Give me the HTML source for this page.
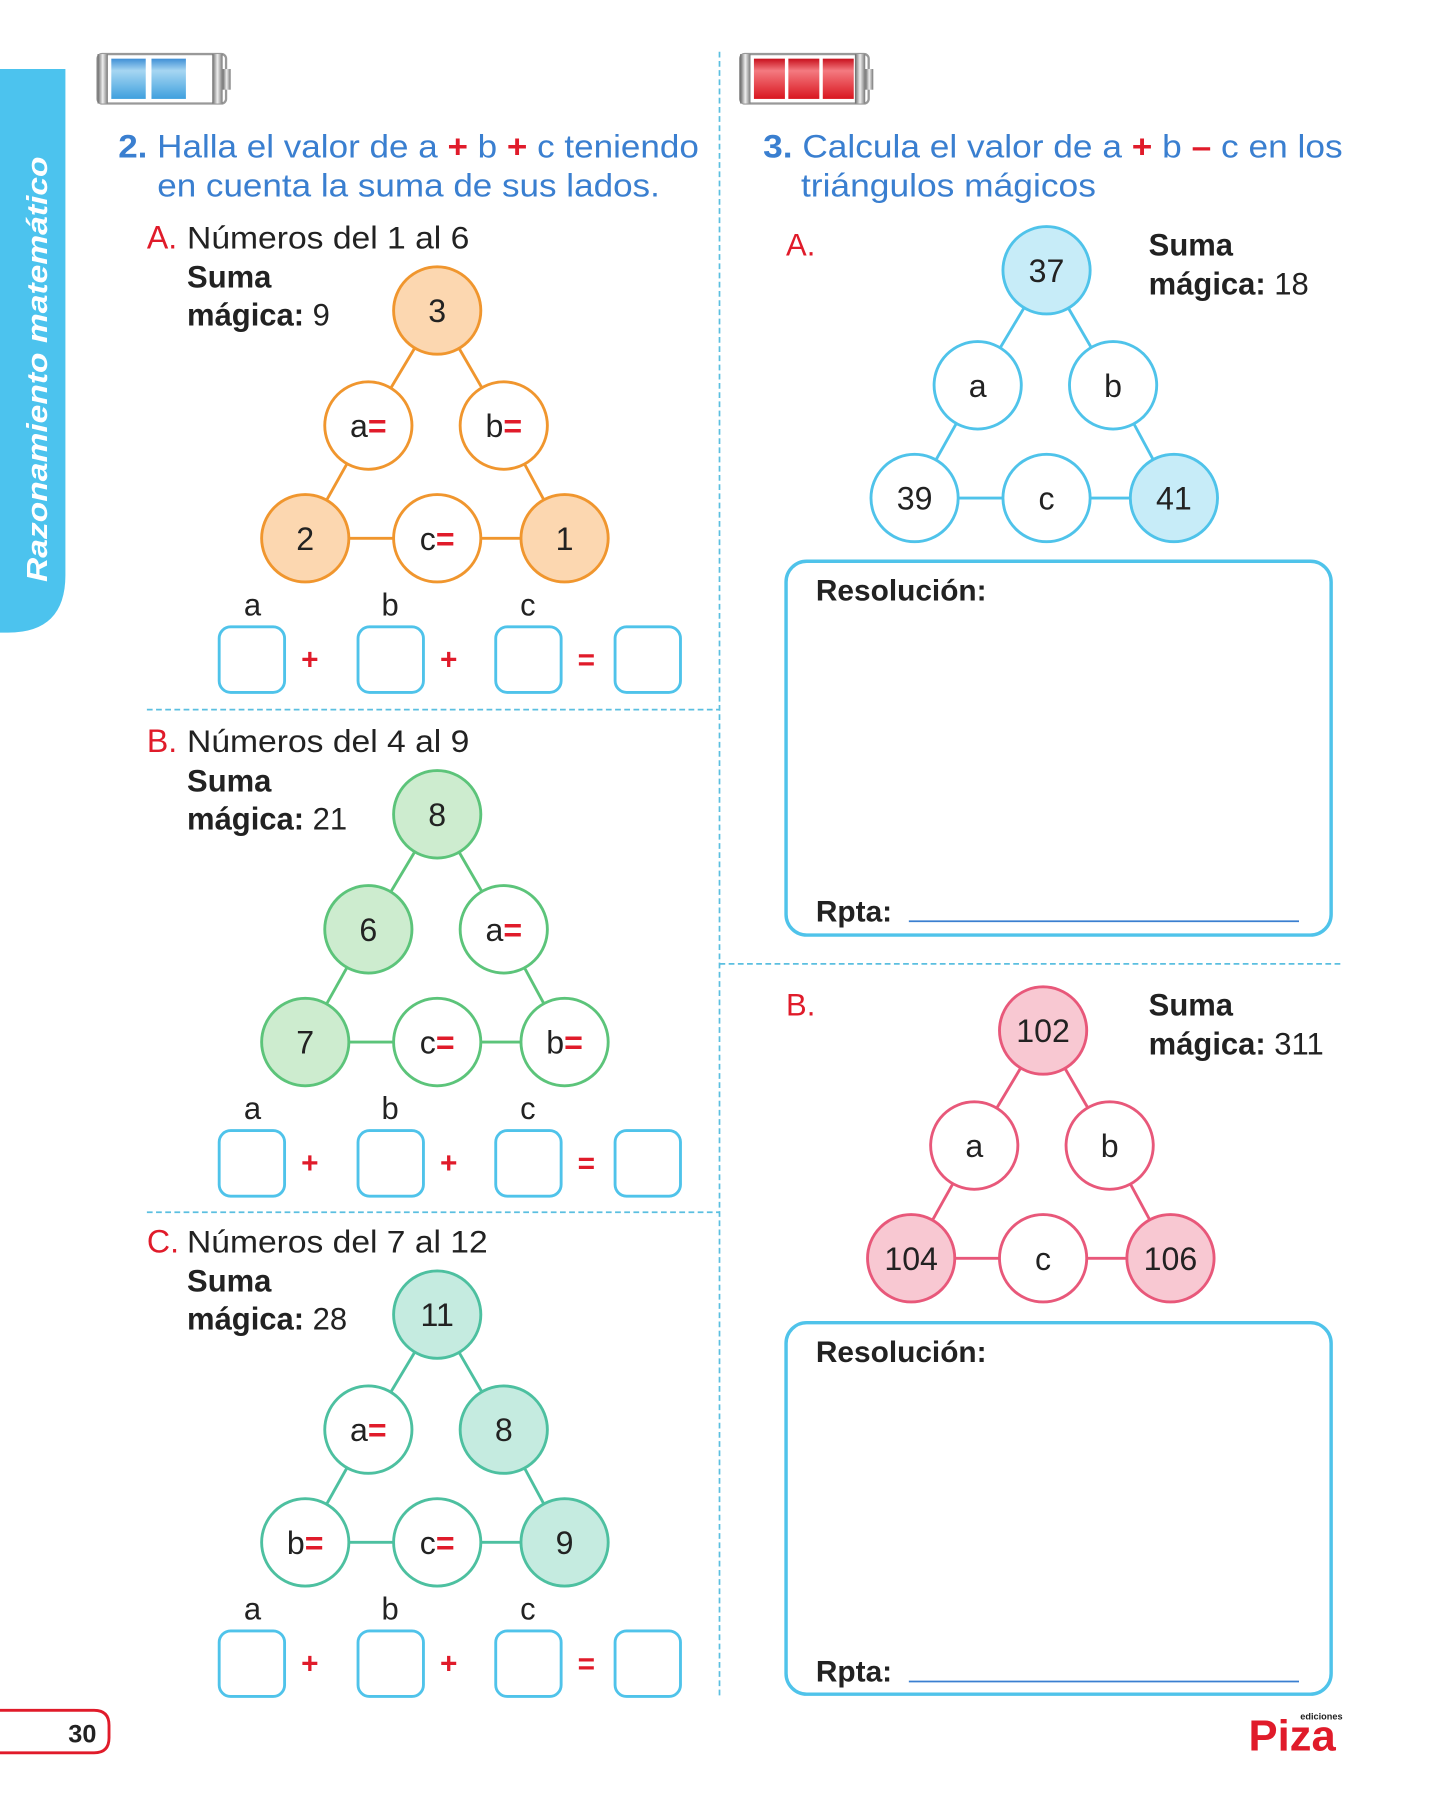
<!DOCTYPE html>
<html><head><meta charset="utf-8"><style>
html,body{margin:0;padding:0;background:#fff}
svg{display:block}
text{font-family:"Liberation Sans",sans-serif}
</style></head><body>
<svg width="1439" height="1800" viewBox="0 0 1254 1565" preserveAspectRatio="none" xmlns="http://www.w3.org/2000/svg">
<defs>
<linearGradient id="bl" x1="0" y1="0" x2="0" y2="1"><stop offset="0" stop-color="#3f8fd6"/><stop offset="0.3" stop-color="#a6d6f2"/><stop offset="1" stop-color="#3fa0de"/></linearGradient>
<linearGradient id="rd" x1="0" y1="0" x2="0" y2="1"><stop offset="0" stop-color="#c8101c"/><stop offset="0.3" stop-color="#f47a80"/><stop offset="1" stop-color="#d9161f"/></linearGradient>
<linearGradient id="gr" x1="0" y1="0" x2="1" y2="0"><stop offset="0" stop-color="#666"/><stop offset="0.5" stop-color="#eee"/><stop offset="1" stop-color="#777"/></linearGradient>
</defs>

<g>
<path d="M0 60 H57 V500 Q57 550 7 550 H0 Z" fill="#4cc3ee"/>
<text transform="translate(41,506) rotate(-90)" font-size="25" font-weight="bold" font-style="italic" fill="#fff" textLength="370" lengthAdjust="spacingAndGlyphs">Razonamiento matemático</text>
</g>

<g>
<rect x="85" y="47" width="112" height="43" rx="4" fill="#fff" stroke="#999" stroke-width="2"/>
<rect x="85" y="47" width="9" height="43" fill="url(#gr)"/>
<rect x="185" y="47" width="9" height="43" fill="url(#gr)"/>
<rect x="194" y="60" width="7" height="18" fill="url(#gr)"/>
<rect x="97" y="51" width="30" height="35" fill="url(#bl)"/>
<rect x="132" y="51" width="30" height="35" fill="url(#bl)"/>
</g>
<g>
<rect x="645" y="47" width="112" height="43" rx="4" fill="#fff" stroke="#999" stroke-width="2"/>
<rect x="645" y="47" width="9" height="43" fill="url(#gr)"/>
<rect x="745" y="47" width="9" height="43" fill="url(#gr)"/>
<rect x="754" y="60" width="7" height="18" fill="url(#gr)"/>
<rect x="657" y="51" width="27" height="35" fill="url(#rd)"/>
<rect x="687" y="51" width="27" height="35" fill="url(#rd)"/>
<rect x="717" y="51" width="27" height="35" fill="url(#rd)"/>
</g>

<g stroke="#5bbfe0" stroke-width="1.5" stroke-dasharray="5,3">
<line x1="627" y1="45" x2="627" y2="1475"/>
<line x1="128" y1="617" x2="627" y2="617"/>
<line x1="128" y1="1054" x2="627" y2="1054"/>
<line x1="627" y1="838" x2="1170" y2="838"/>
</g>

<g font-size="28" fill="#3a7fd0">
<text x="103" y="137" textLength="506" lengthAdjust="spacingAndGlyphs"><tspan font-weight="bold">2.</tspan> Halla el valor de a <tspan fill="#e01b2a" font-weight="bold">+</tspan> b <tspan fill="#e01b2a" font-weight="bold">+</tspan> c teniendo</text>
<text x="137" y="171" textLength="438" lengthAdjust="spacingAndGlyphs">en cuenta la suma de sus lados.</text>
<text x="665" y="137" textLength="505" lengthAdjust="spacingAndGlyphs"><tspan font-weight="bold">3.</tspan> Calcula el valor de a <tspan fill="#e01b2a" font-weight="bold">+</tspan> b <tspan fill="#e01b2a" font-weight="bold">–</tspan> c en los</text>
<text x="698" y="171" textLength="257" lengthAdjust="spacingAndGlyphs">triángulos mágicos</text>
</g>

<g id="left"></g>
<g id="right"></g>

<g>
<rect x="685" y="488" width="475" height="325" rx="18" fill="none" stroke="#4fc3ea" stroke-width="3"/>
<text x="711" y="522" font-size="26" font-weight="bold" fill="#222">Resolución:</text>
<text x="711" y="801" font-size="26" font-weight="bold" fill="#222">Rpta:</text>
<line x1="792" y1="801" x2="1132" y2="801" stroke="#3a7fd0" stroke-width="1.5"/>
</g>
<g>
<rect x="685" y="1150" width="475" height="323" rx="18" fill="none" stroke="#4fc3ea" stroke-width="3"/>
<text x="711" y="1184" font-size="26" font-weight="bold" fill="#222">Resolución:</text>
<text x="711" y="1462" font-size="26" font-weight="bold" fill="#222">Rpta:</text>
<line x1="792" y1="1462" x2="1132" y2="1462" stroke="#3a7fd0" stroke-width="1.5"/>
</g>

<g>
<path d="M0 1487 H82 Q95 1487 95 1500 V1511 Q95 1524 82 1524 H0" fill="#fff" stroke="#e01b2a" stroke-width="2.5"/>
<text x="84" y="1515" font-size="22" font-weight="bold" fill="#222" text-anchor="end">30</text>
</g>
<g>
<text x="1126" y="1522" font-size="38" font-weight="bold" fill="#e01b2a" text-anchor="middle">Piza</text>
<text x="1170" y="1495" font-size="8" font-weight="bold" fill="#222" text-anchor="end">ediciones</text>
</g>

<script>
const NS='http://www.w3.org/2000/svg';
function mk(parent,tag,attrs,txt){const e=document.createElementNS(NS,tag);for(const k in attrs)e.setAttribute(k,attrs[k]);if(txt!==undefined)e.textContent=txt;parent.appendChild(e);return e;}
const leftTitles=['A.','B.','C.'];
const leftRanges=['Números del 1 al 6','Números del 4 al 9','Números del 7 al 12'];
const leftSums=['9','21','28'];
const leftNodes=[['3','a=','b=','2','c=','1'],['8','6','a=','7','c=','b='],['11','a=','8','b=','c=','9']];
const leftFilled=[[1,0,0,1,0,1],[1,1,0,1,0,0],[1,0,1,0,0,1]];
const leftStroke=['#f0962e','#5cc47a','#4dc0a0'];
const leftFill=['#fcd7b0','#cdeccf','#c5ebe0'];
const leftOffsets=[0,438,873];
const rightTitles=['A.','B.'];
const rightSums=['18','311'];
const rightNodes=[['37','a','b','39','c','41'],['102','a','b','104','c','106']];
const rightFilled=[[1,0,0,0,0,1],[1,0,0,1,0,1]];
const rightStroke=['#4fc3ea','#e8587a'];
const rightFill=['#c7ecf8','#f8c8d2'];

function tri(g,cx,cy,vals,filled,stroke,fill){
  const P=[[cx,cy],[cx-60,cy+100],[cx+58,cy+100],[cx-115,cy+198],[cx,cy+198],[cx+111,cy+198]];
  const lines=[[0,1],[0,2],[1,3],[2,5],[3,4],[4,5]];
  lines.forEach(l=>{
    const [a,b]=l;const x1=P[a][0],y1=P[a][1],x2=P[b][0],y2=P[b][1];
    const d=Math.hypot(x2-x1,y2-y1),r=38;
    const ln=mk(g,'line',{x1:x1+(x2-x1)*r/d,y1:y1+(y2-y1)*r/d,x2:x2-(x2-x1)*r/d,y2:y2-(y2-y1)*r/d,stroke:stroke,'stroke-width':2.5});
    
    
  });
  P.forEach((p,i)=>{
    const c=mk(g,'circle',{cx:p[0],cy:p[1],r:38,fill:filled[i]?fill:'#fff',stroke:stroke,'stroke-width':2.5});
    
    
    const v=vals[i];
    if(v.endsWith('=')){
      const t=mk(g,'text',{x:p[0],y:p[1]+10,'font-size':28,'text-anchor':'middle',fill:'#222'});
      mk(t,'tspan',{},v.slice(0,-1));mk(t,'tspan',{fill:'#e01b2a','font-weight':'bold'},'=');
    } else mk(g,'text',{x:p[0],y:p[1]+10,'font-size':28,'text-anchor':'middle',fill:'#222'},v);
  });
}
const L=document.getElementById('left');
leftTitles.forEach((t,i)=>{
  const o=leftOffsets[i];
  const g=mk(L,'g',{});
  
  
  mk(g,'text',{x:128,y:216+o,'font-size':28,fill:'#e01b2a'},t);
  mk(g,'text',{x:163,y:216+o,'font-size':27,fill:'#222',textLength:(i==2?262:246),lengthAdjust:'spacingAndGlyphs'},leftRanges[i]);
  mk(g,'text',{x:163,y:250+o,'font-size':27,'font-weight':'bold',fill:'#222'},'Suma');
  const s=mk(g,'text',{x:163,y:283+o,'font-size':27,fill:'#222'});
  mk(s,'tspan',{'font-weight':'bold'},'mágica:');mk(s,'tspan',{},' '+leftSums[i]);
  tri(g,381,270+o,leftNodes[i],leftFilled[i],leftStroke[i],leftFill[i]);
  ['a','b','c'].forEach((l,j)=>mk(g,'text',{x:220+120*j,y:535+o,'font-size':27,'text-anchor':'middle',fill:'#222'},l));
  [191,312,432,536].forEach(x=>{
    const b=mk(g,'rect',{x:x,y:545+o,width:57,height:57,rx:10,fill:'#fff',stroke:'#4fc3ea','stroke-width':2.5});
    
    
  });
  [['+',270],['+',391],['=',511]].forEach(s=>mk(g,'text',{x:s[1],y:582+o,'font-size':26,'font-weight':'bold','text-anchor':'middle',fill:'#e01b2a'},s[0]));
});
const R=document.getElementById('right');
const rOff=[0,661];
const rTop=[[912,235],[909,896]];
rightTitles.forEach((t,i)=>{
  const o=rOff[i];
  const g=mk(R,'g',{});
  
  
  mk(g,'text',{x:685,y:222+o,'font-size':27,fill:'#e01b2a'},t);
  mk(g,'text',{x:1001,y:222+o,'font-size':27,'font-weight':'bold',fill:'#222'},'Suma');
  const s=mk(g,'text',{x:1001,y:256+o,'font-size':27,fill:'#222'});
  mk(s,'tspan',{'font-weight':'bold'},'mágica:');mk(s,'tspan',{},' '+rightSums[i]);
  tri(g,rTop[i][0],rTop[i][1],rightNodes[i],rightFilled[i],rightStroke[i],rightFill[i]);
});
</script>
</svg>
</body></html>
